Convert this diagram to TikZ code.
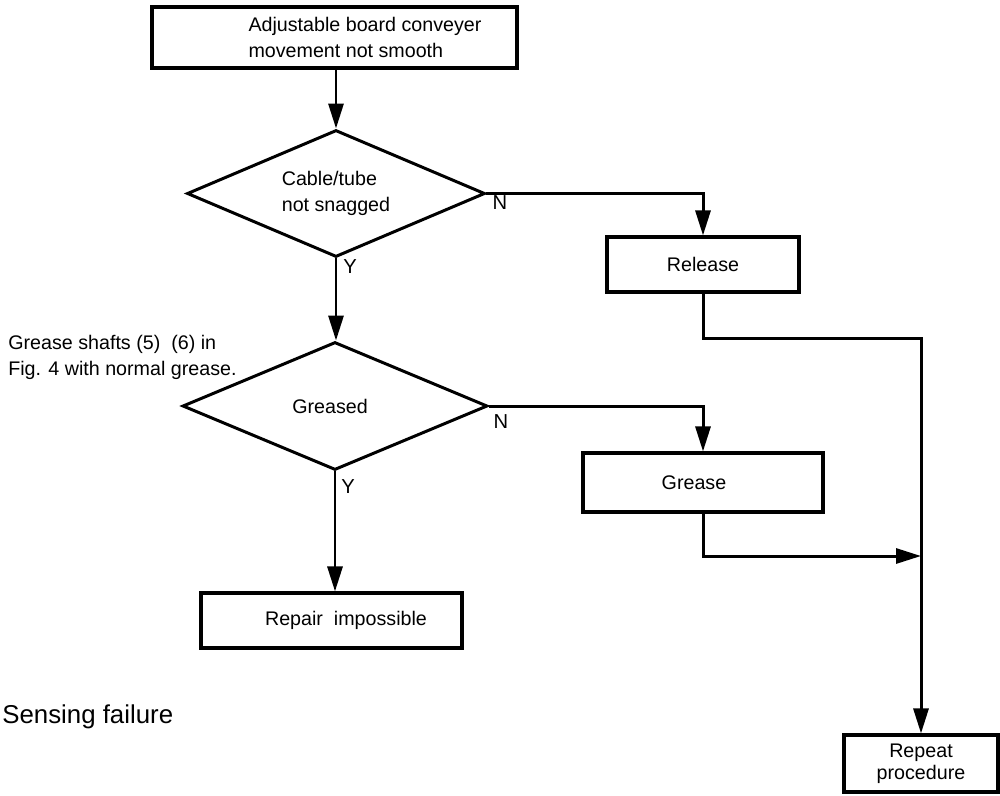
\documentclass[tikz,border=0pt]{standalone}
\usepackage{fontspec}
\setmainfont{Liberation Sans}
\usetikzlibrary{shapes.geometric,arrows.meta}
\begin{document}
\begin{tikzpicture}[x=0.02cm,y=-0.02cm,
  txt/.style={font=\fontsize{11.2}{14.7}\selectfont, inner sep=0pt},
  box/.style={draw, line width=1.8pt, rectangle, inner sep=0pt, font=\fontsize{11.2}{14.7}\selectfont, align=center},
  dia/.style={draw, line width=1.7pt, diamond, aspect=2, inner sep=0pt, font=\fontsize{11.2}{14.7}\selectfont, align=left},
  lbl/.style={font=\fontsize{11.5}{14}\selectfont, inner sep=0pt},
  conn/.style={line width=1.7pt},
  arr/.style={conn, -{Triangle[length=0.5cm,width=0.3cm]}}]
\useasboundingbox (0,0) rectangle (1000,795);
% boxes
\node[box, minimum width=7.3cm, minimum height=1.22cm] (top) at (334.5,37.5) {};
\node[txt, align=left] (toptext) at (365,37.5) {Adjustable board conveyer\\movement not smooth};
\node[dia, minimum width=5.96cm, minimum height=2.54cm] (d1) at (336,193.5) {Cable/tube\\not snagged};
\node[box, minimum width=3.84cm, minimum height=1.1cm] (rel) at (703,264.5) {Release};
\node[dia, minimum width=6.1cm, minimum height=2.56cm] (d2) at (335,406) {};
\node[txt] (d2text) at (330,406) {Greased};
\node[box, minimum width=4.8cm, minimum height=1.18cm] (gr) at (703,482.5) {};
\node[txt] (grtext) at (694,482.5) {Grease};
\node[box, minimum width=5.22cm, minimum height=1.1cm] (rp) at (331.5,620.5) {};
\node[txt] (rptext) at (346,620.5) {Repair\ \ impossible};
\node[box, minimum width=3.08cm, minimum height=1.14cm, font=\fontsize{11.2}{12.5}\selectfont] (rpt) at (921,763.5) {Repeat\\procedure};
% annotations
\node[txt, anchor=west, align=left] (note) at (8,357) {Grease shafts (5)\ \ (6) in\\Fig. 4 with normal grease.};
\node[anchor=west, inner sep=0pt, font=\fontsize{14.7}{16}\selectfont] (title) at (2,717) {Sensing failure};
% labels
\node[lbl] (n1) at (500,203) {N};
\node[lbl] (y1) at (350,267) {Y};
\node[lbl] (n2) at (501,422) {N};
\node[lbl] (y2) at (348,487) {Y};
% junctions
\coordinate (j1) at (921,338);
\coordinate (j2) at (921,556);
% connectors
\draw[arr] (d1.north |- top.south) -- (d1.north);
\draw[arr] (d1.east) -| (rel.north);
\draw[arr] (d1.south) -- (d1.south |- d2.north);
\draw[arr] (d2.east) -| (gr.north);
\draw[arr] (d2.south) -- (d2.south |- rp.north);
\draw[arr] (rel.south) |- (j1) -- (rpt.north);
\draw[arr] (gr.south) |- (j2);
\end{tikzpicture}
\end{document}
